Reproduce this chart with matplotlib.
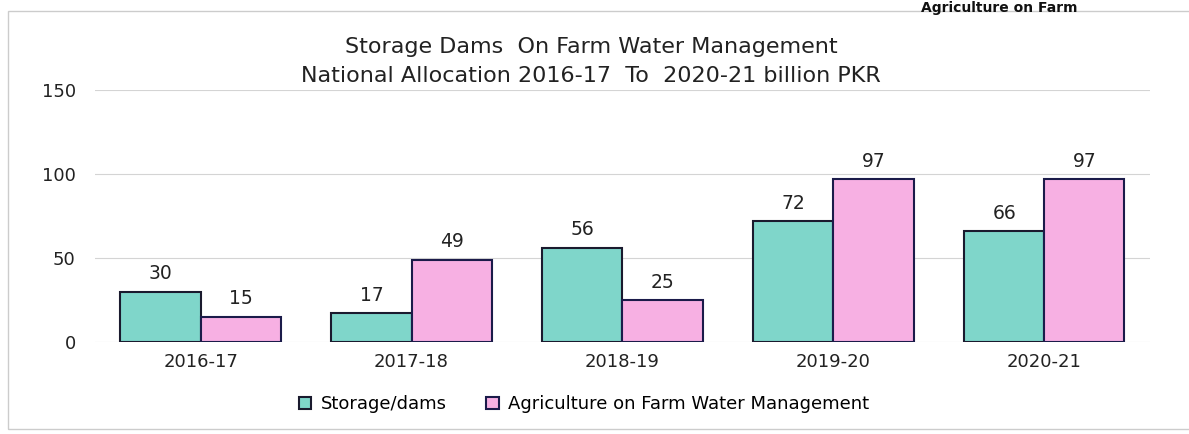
import matplotlib.pyplot as plt
from matplotlib.patches import Rectangle
import numpy as np

years = ['2016-17', '2017-18', '2018-19', '2019-20', '2020-21']
storage = [30, 17, 56, 72, 66]
agri = [15, 49, 25, 97, 97]

teal = '#7fd6ca'
pink = '#f7b0e3'

fig = plt.figure(figsize=(11.89, 4.34), dpi=100)
ax = fig.add_axes([0.080, 0.212, 0.887, 0.581])

x = np.arange(len(years))
w = 0.38
b1 = ax.bar(x - w/2, storage, w, color=teal, edgecolor='#1a1a2e', linewidth=1.5, label='Storage/dams')
b2 = ax.bar(x + w/2, agri, w, color=pink, edgecolor='#1b1b4a', linewidth=1.5, label='Agriculture on Farm Water Management')

for bars in (b1, b2):
    for r in bars:
        ax.text(r.get_x() + r.get_width()/2, r.get_height() + 5, '%d' % r.get_height(),
                ha='center', va='bottom', fontsize=13.5, color='#222222')

ax.set_xlim(-0.5, 4.5)
ax.set_ylim(0, 150)
ax.set_yticks([0, 50, 100, 150])
ax.set_xticks(x)
ax.set_xticklabels(years)
ax.tick_params(length=0, labelsize=13, colors='#222222')
ax.tick_params(axis='x', pad=8)
ax.tick_params(axis='y', pad=14)
ax.grid(axis='y', color='#d4d4d4', linewidth=0.8)
ax.set_axisbelow(True)
for s in ax.spines.values():
    s.set_visible(False)

fig.text(0.497, 0.859, 'Storage Dams  On Farm Water Management\nNational Allocation 2016-17  To  2020-21 billion PKR',
         ha='center', va='center', fontsize=16, color='#222222', linespacing=1.55)

fig.legend(handles=[b1, b2], loc='center', bbox_to_anchor=(0.491, 0.068), ncol=2, frameon=False,
           fontsize=13, handlelength=0.7, handleheight=0.7, handletextpad=0.5, columnspacing=2.2)

# scanned page: frame and heading at the top edge
fig.patches.append(Rectangle((8/1189, 5/434), 1.0, 1 - 16/434, transform=fig.transFigure,
                             fill=False, edgecolor='#cccccc', linewidth=1.0))
fig.text(0.84, 1 - 1/434, 'Agriculture on Farm', ha='center', va='top', fontsize=10,
         fontweight='bold', color='#111111')

fig.savefig('out.png', dpi=100)
